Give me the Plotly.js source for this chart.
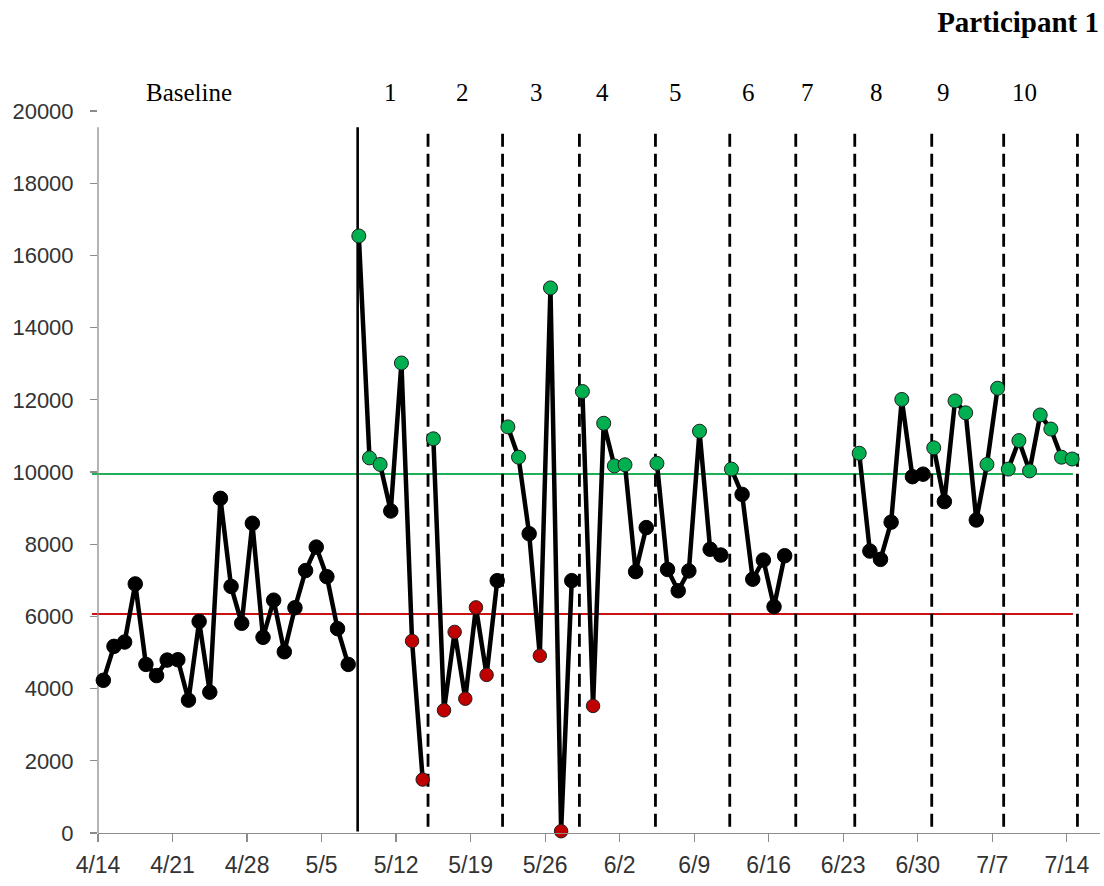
<!DOCTYPE html>
<html>
<head>
<meta charset="utf-8">
<script src="https://cdn.plot.ly/plotly-3.0.1.min.js"></script>
<style>
  html, body { margin: 0; padding: 0; background: #ffffff; }
  #chart { width: 1104px; height: 886px; }
</style>
</head>
<body>
<div id="chart"></div>
<script>
// Daily step counts for Participant 1 (one value per recorded day)
const dates = [
  '2014-04-14','2014-04-15','2014-04-16','2014-04-17','2014-04-18','2014-04-19','2014-04-20',
  '2014-04-21','2014-04-22','2014-04-23','2014-04-24','2014-04-25','2014-04-26','2014-04-27',
  '2014-04-28','2014-04-29','2014-04-30','2014-05-01','2014-05-02','2014-05-03','2014-05-04',
  '2014-05-05','2014-05-06','2014-05-07',
  '2014-05-08','2014-05-09','2014-05-10','2014-05-11','2014-05-12','2014-05-13','2014-05-14',
  '2014-05-15','2014-05-16','2014-05-17','2014-05-18','2014-05-19','2014-05-20','2014-05-21',
  '2014-05-22','2014-05-23','2014-05-24','2014-05-25','2014-05-26','2014-05-27','2014-05-28',
  '2014-05-29','2014-05-30','2014-05-31','2014-06-01','2014-06-02','2014-06-03','2014-06-04',
  '2014-06-05','2014-06-06','2014-06-07','2014-06-08','2014-06-09','2014-06-10','2014-06-11',
  '2014-06-12','2014-06-13','2014-06-14','2014-06-15','2014-06-16','2014-06-17',
  '2014-06-24','2014-06-25','2014-06-26','2014-06-27','2014-06-28','2014-06-29','2014-06-30',
  '2014-07-01','2014-07-02','2014-07-03','2014-07-04','2014-07-05','2014-07-06','2014-07-07',
  '2014-07-08','2014-07-09','2014-07-10','2014-07-11','2014-07-12','2014-07-13','2014-07-14'
];

const steps = [
  4230, 5170, 5290, 6900, 4670, 4360, 4790,
  4800, 3680, 5860, 3900, 9270, 6830, 5810,
  8580, 5420, 6450, 5020, 6240, 7270, 7920,
  7100, 5660, 4670,
  16540, 10390, 10210, 8920, 13020, 5320, 1480,
  10920, 3400, 5570, 3720, 6250, 4380, 6990,
  11250, 10410, 8290, 4910, 15100, 50, 6990,
  12230, 3520, 11350, 10170, 10200, 7240, 8460,
  10240, 7300, 6710, 7260, 11130, 7860, 7700,
  10080, 9380, 7030, 7560, 6270, 7680,
  10520, 7810, 7580, 8610, 12010, 9870, 9940,
  10670, 9180, 11970, 11640, 8670, 10210, 12320,
  10080, 10870, 10030, 11580, 11190, 10410, 10360
];

// Goal status of each day: 'above' the target, 'below' the floor, or 'none'
const status = [
  'none','none','none','none','none','none','none',
  'none','none','none','none','none','none','none',
  'none','none','none','none','none','none','none',
  'none','none','none',
  'above','above','above','none','above','below','below',
  'above','below','below','below','below','below','none',
  'above','above','none','below','above','below','none',
  'above','below','above','above','above','none','none',
  'above','none','none','none','above','none','none',
  'above','none','none','none','none','none',
  'above','none','none','none','above','none','none',
  'above','none','above','above','none','above','above',
  'above','above','above','above','above','above','above'
];

// Phase change moments (first = end of baseline, last = end of phase 10)
const phaseChanges = [
  '2014-05-08 09:20', '2014-05-15 00:00', '2014-05-22 00:00', '2014-05-29 05:15',
  '2014-06-05 08:40', '2014-06-12 08:10', '2014-06-18 13:00', '2014-06-24 02:00',
  '2014-07-01 07:30', '2014-07-08 01:40', '2014-07-15 00:00'
];

const phaseNames = ['Baseline', '1', '2', '3', '4', '5', '6', '7', '8', '9', '10'];
const phaseLabelAt = [
  '2014-04-22 14:00', '2014-05-11 11:00', '2014-05-18 05:00', '2014-05-25 05:30',
  '2014-05-31 10:00', '2014-06-07 06:00', '2014-06-14 02:30', '2014-06-19 15:00',
  '2014-06-26 02:30', '2014-07-02 11:00', '2014-07-10 01:30'
];

const goalTarget = 9945;   // upper goal line
const goalFloor = 6065;    // lower reference line

const tickDates = [
  '2014-04-14','2014-04-21','2014-04-28','2014-05-05','2014-05-12','2014-05-19','2014-05-26',
  '2014-06-02','2014-06-09','2014-06-16','2014-06-23','2014-06-30','2014-07-07','2014-07-14'
];
const tickLabels = ['4/14','4/21','4/28','5/5','5/12','5/19','5/26','6/2','6/9','6/16','6/23','6/30','7/7','7/14'];
const yTicks = [0, 2000, 4000, 6000, 8000, 10000, 12000, 14000, 16000, 18000, 20000];

// ---- build the data path, breaking it at every phase change ----
const toMs = s => new Date(s.replace(' ', 'T') + (s.length > 10 ? ':00Z' : 'T00:00:00Z')).getTime();
const changeMs = phaseChanges.map(toMs);
const phaseOf = d => changeMs.filter(c => c <= toMs(d) + 12 * 3600e3).length;

const markerStyle = {
  none:  { fill: '#000000', edge: '#000000', size: 14.5 },
  above: { fill: '#00B050', edge: '#1f1f1f', size: 14 },
  below: { fill: '#C00000', edge: '#1f1f1f', size: 13.5 }
};

const px = [], py = [], mc = [], ml = [], ms = [];
dates.forEach((d, i) => {
  if (i > 0 && phaseOf(d) !== phaseOf(dates[i - 1])) {
    px.push(null); py.push(null); mc.push('#000'); ml.push('#000'); ms.push(0);
  }
  const st = markerStyle[status[i]];
  px.push(d + ' 12:00');
  py.push(steps[i]);
  mc.push(st.fill); ml.push(st.edge); ms.push(st.size);
});

const trace = {
  type: 'scatter',
  mode: 'lines+markers',
  x: px,
  y: py,
  connectgaps: false,
  line: { color: '#000000', width: 4.5 },
  marker: { color: mc, size: ms, opacity: 1, line: { color: ml, width: 1 } },
  cliponaxis: false,
  hoverinfo: 'x+y',
  showlegend: false
};

// ---- reference lines ----
const shapes = [];
const lineTop = 19550;
phaseChanges.forEach((c, i) => {
  shapes.push({
    type: 'line', xref: 'x', yref: 'y',
    x0: c, x1: c, y0: i === 0 ? 40 : 170, y1: lineTop,
    line: { color: '#000000', width: i === 0 ? 2.6 : 2.8, dash: i === 0 ? 'solid' : '13px,7px' },
    layer: 'below'
  });
});
shapes.push({
  type: 'line', xref: 'paper', yref: 'y', x0: -0.006, x1: 0.973, y0: goalTarget, y1: goalTarget,
  line: { color: '#1DB057', width: 2 }, layer: 'below'
});
shapes.push({
  type: 'line', xref: 'paper', yref: 'y', x0: -0.006, x1: 0.973, y0: goalFloor, y1: goalFloor,
  line: { color: '#CC1111', width: 2 }, layer: 'below'
});
// vertical axis line
shapes.push({
  type: 'line', xref: 'paper', yref: 'y', x0: 0, x1: 0, y0: 0, y1: lineTop,
  line: { color: '#8c8c8c', width: 1.3 }, layer: 'below'
});

const annotations = phaseNames.map((name, i) => ({
  text: name,
  x: phaseLabelAt[i], xref: 'x',
  y: 1.026, yref: 'paper',
  xanchor: 'center', yanchor: 'middle',
  showarrow: false,
  font: { family: '"Liberation Serif", "Times New Roman", serif', size: 25, color: '#000000' }
}));

const layout = {
  width: 1104,
  height: 886,
  paper_bgcolor: '#ffffff',
  plot_bgcolor: '#ffffff',
  margin: { l: 98, r: 4, t: 111, b: 53 },
  title: {
    text: '<b>Participant 1</b>',
    xref: 'container', x: 0.9955, xanchor: 'right',
    yref: 'container', y: 0.975, yanchor: 'middle',
    font: { family: '"Liberation Serif", "Times New Roman", serif', size: 29, color: '#000000' }
  },
  xaxis: {
    type: 'date',
    range: ['2014-04-14 00:00', '2014-07-17 02:50'],
    tickmode: 'array',
    tickvals: tickDates,
    ticktext: tickLabels,
    ticks: 'outside',
    ticklen: 8,
    tickwidth: 1.2,
    tickcolor: '#8c8c8c',
    showline: true,
    linecolor: '#8c8c8c',
    linewidth: 1.3,
    showgrid: false,
    zeroline: false,
    ticklabelstandoff: 3,
    tickfont: { family: '"Liberation Sans", Arial, sans-serif', size: 23, color: '#333333' }
  },
  yaxis: {
    range: [0, 20000],
    tickmode: 'array',
    tickvals: yTicks,
    ticktext: yTicks.map(String),
    ticks: 'outside',
    ticklen: 7,
    tickwidth: 1.2,
    tickcolor: '#8c8c8c',
    showline: false,
    showgrid: false,
    zeroline: false,
    ticklabelstandoff: 12,
    tickfont: { family: '"Liberation Sans", Arial, sans-serif', size: 22, color: '#333333' }
  },
  shapes: shapes,
  annotations: annotations
};

Plotly.newPlot('chart', [trace], layout, { displayModeBar: false, staticPlot: true });
</script>
</body>
</html>
